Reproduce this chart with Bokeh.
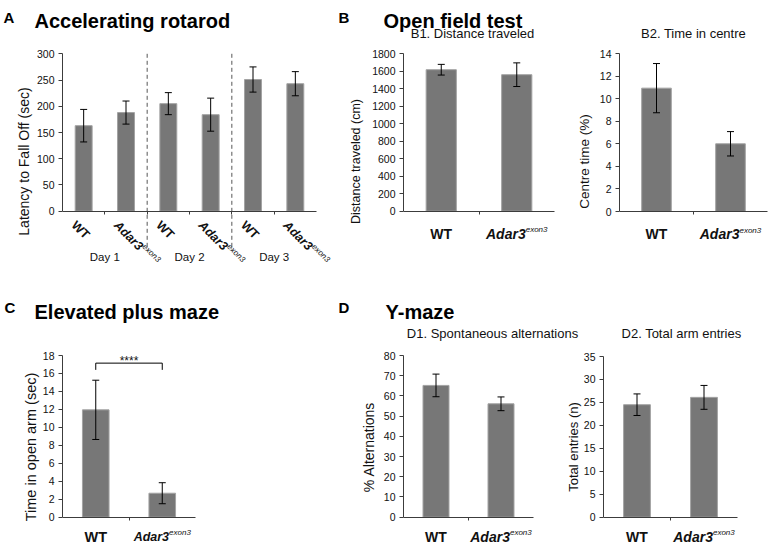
import math
from bokeh.plotting import figure
from bokeh.models import Range1d, FixedTicker, Label, Whisker, TeeHead, ColumnDataSource
from bokeh.layouts import row, column
from bokeh.embed import file_html
from bokeh.resources import INLINE

FONT = "Liberation Sans"
BAR_FILL = "#777777"
BAR_LINE = "#a3a3a3"
AXIS_COLOR = "#3c3c3c"
TEXT_COLOR = "#111111"

# ---------------- data ----------------
genotypes = ["WT", "Adar3"]
allele_sup = "exon3"

# A. Accelerating rotarod
rotarod_title = "Accelerating rotarod"
rotarod_days = ["Day 1", "Day 2", "Day 3"]
rotarod_groups = ["WT", "Adar3", "WT", "Adar3", "WT", "Adar3"]
rotarod_mean = [163, 188, 205, 184, 251, 243]
rotarod_err = [31, 22, 21, 31.5, 24, 23]
rotarod_ticks = [0, 50, 100, 150, 200, 250, 300]
rotarod_ylabel = "Latency to Fall Off (sec)"

# B. Open field test
openfield_title = "Open field test"
dist_subtitle = "B1. Distance traveled"
dist_mean = [1615, 1558]
dist_err = [61, 135]
dist_ticks = [0, 200, 400, 600, 800, 1000, 1200, 1400, 1600, 1800]
dist_ylabel = "Distance traveled (cm)"

centre_subtitle = "B2. Time in centre"
centre_mean = [10.93, 6.0]
centre_err = [2.18, 1.08]
centre_ticks = [0, 2, 4, 6, 8, 10, 12, 14]
centre_ylabel = "Centre time (%)"

# C. Elevated plus maze
epm_title = "Elevated plus maze"
epm_mean = [11.95, 2.67]
epm_err = [3.3, 1.17]
epm_ticks = [0, 2, 4, 6, 8, 10, 12, 14, 16, 18]
epm_ylabel = "Time in open arm (sec)"
epm_sig_label = "****"
epm_sig_top = 17.15
epm_sig_drop = 16.4

# D. Y-maze
ymaze_title = "Y-maze"
alt_subtitle = "D1. Spontaneous alternations"
alt_mean = [65.2, 56.1]
alt_err = [5.6, 3.4]
alt_ticks = [0, 10, 20, 30, 40, 50, 60, 70, 80]
alt_ylabel = "% Alternations"

entries_subtitle = "D2. Total arm entries"
entries_mean = [24.5, 26.1]
entries_err = [2.35, 2.6]
entries_ticks = [0, 5, 10, 15, 20, 25, 30, 35]
entries_ylabel = "Total entries (n)"

# approximate advance widths (em) of label strings (Arial metrics)
EM_ADAR3_BOLD = 2.834
EM_EXON3 = 2.724

# ---------------- layout (picture pixels) ----------------
TOTAL_W = 770
STRIP_TOP_H = 46
ROW_TOP_H = 224
STRIP_BOT_H = 75
ROW_BOT_H = 199
COL_X = [0, 336, 560, 770]
LETTER_SIZE = 15


def style_common(p):
    p.outline_line_color = None
    p.grid.visible = False
    p.background_fill_color = "white"
    p.border_fill_color = "white"


def make_plot(fig_box, axis_box, n_cat, y_ticks, y_label, y_label_size, y_label_standoff, top_border=6):
    fx0, fy0, fx1, fy1 = fig_box
    ax0, ax1, y0_px, ytop_px = axis_box
    ymax = y_ticks[-1]
    frame_top = fy0 + top_border
    ppu = (y0_px - ytop_px) / ymax
    y_start = -(fy1 - y0_px) / ppu
    y_end = ymax + (ytop_px - frame_top) / ppu
    x_end = n_cat * (fx1 - ax0) / (ax1 - ax0)
    p = figure(width=int(fx1 - fx0), height=int(fy1 - fy0), output_backend="svg",
               toolbar_location=None, x_axis_location="above",
               x_range=Range1d(0, x_end), y_range=Range1d(y_start, y_end),
               min_border_left=int(ax0 - fx0), min_border_right=0,
               min_border_top=top_border, min_border_bottom=0)
    style_common(p)

    ya = p.yaxis[0]
    ya.bounds = (0, ymax)
    ya.ticker = FixedTicker(ticks=y_ticks, minor_ticks=[])
    ya.axis_line_color = AXIS_COLOR
    ya.major_tick_line_color = AXIS_COLOR
    ya.major_tick_out = 4
    ya.major_tick_in = 0
    ya.minor_tick_line_color = None
    ya.major_label_standoff = 4
    ya.major_label_text_font = FONT
    ya.major_label_text_font_size = "10.5px"
    ya.major_label_text_color = TEXT_COLOR
    ya.axis_label = y_label
    ya.axis_label_text_font = FONT
    ya.axis_label_text_font_size = f"{y_label_size}px"
    ya.axis_label_text_font_style = "normal"
    ya.axis_label_text_color = TEXT_COLOR
    ya.axis_label_standoff = y_label_standoff

    xa = p.xaxis[0]
    xa.fixed_location = 0
    xa.bounds = (0, n_cat)
    boundaries = list(range(1, n_cat))
    xa.ticker = FixedTicker(ticks=boundaries, minor_ticks=[])
    xa.major_label_overrides = {b: "" for b in boundaries}
    xa.major_label_text_color = None
    xa.major_label_text_font_size = "1px"
    xa.major_label_standoff = 0
    xa.axis_line_color = AXIS_COLOR
    xa.major_tick_line_color = AXIS_COLOR
    xa.major_tick_out = 0
    xa.major_tick_in = 3
    xa.minor_tick_line_color = None
    return p, ppu


def make_strip(height):
    p = figure(width=TOTAL_W, height=height, output_backend="svg", toolbar_location=None,
               x_axis_location=None, y_axis_location=None,
               x_range=Range1d(0, TOTAL_W), y_range=Range1d(height, 0),
               min_border_left=0, min_border_right=0, min_border_top=0, min_border_bottom=0)
    style_common(p)
    return p


def add_text(p, text, x, y, dx=0.0, dy=0.0, size=12.0, style="normal",
             align="left", baseline="alphabetic", angle=0.0, color=TEXT_COLOR):
    p.add_layout(Label(x=x, y=y, x_offset=dx, y_offset=dy, text=text,
                       text_font=FONT, text_font_size=f"{size}px",
                       text_font_style=style, text_align=align,
                       text_baseline=baseline, angle=angle, text_color=color))


def add_bars(p, means, errs, width=0.4):
    xs = [i + 0.5 for i in range(len(means))]
    src = ColumnDataSource(dict(
        x=xs, top=means,
        upper=[m + e for m, e in zip(means, errs)],
        lower=[m - e for m, e in zip(means, errs)]))
    p.vbar(x="x", top="top", bottom=0, width=width, source=src,
           fill_color=BAR_FILL, line_color=BAR_LINE, line_width=1)
    w = Whisker(source=src, base="x", upper="upper", lower="lower",
                line_color="black", line_width=1,
                upper_head=TeeHead(size=7, line_color="black", line_width=1),
                lower_head=TeeHead(size=7, line_color="black", line_width=1))
    w.level = "overlay"
    p.add_layout(w)
    return xs


def add_geno_labels(p, xs, groups, size_wt, size_adar, size_sup, below, raise_px):
    for x, g in zip(xs, groups):
        if g == "WT":
            add_text(p, g, x, 0, 0, -below, size_wt, "bold", "center")
        else:
            dx = (EM_ADAR3_BOLD * size_adar - EM_EXON3 * size_sup) / 2.0
            add_text(p, g, x, 0, dx, -below, size_adar, "bold italic", "right")
            add_text(p, allele_sup, x, 0, dx, -below + raise_px, size_sup, "italic", "left")


# ---------------- heading strips ----------------
top_y = 0
stripT = make_strip(STRIP_TOP_H)
add_text(stripT, "A", 3, 17 - top_y, size=LETTER_SIZE, style="bold", color="black")
add_text(stripT, rotarod_title, 34, 20 - top_y, size=20, style="bold", color="black")
add_text(stripT, "B", 338, 17 - top_y, size=LETTER_SIZE, style="bold", color="black")
add_text(stripT, openfield_title, 383, 20 - top_y, size=20, style="bold", color="black")
add_text(stripT, dist_subtitle, 472, 33 - top_y, size=13, align="center", baseline="middle")
add_text(stripT, centre_subtitle, 693, 33 - top_y, size=13, align="center", baseline="middle")

row_top_y = top_y + STRIP_TOP_H
strip_bot_y = row_top_y + ROW_TOP_H
stripB = make_strip(STRIP_BOT_H)
add_text(stripB, "C", 4, 307 - strip_bot_y, size=LETTER_SIZE, style="bold", color="black")
add_text(stripB, epm_title, 34, 311.5 - strip_bot_y, size=20, style="bold", color="black")
add_text(stripB, "D", 338, 307 - strip_bot_y, size=LETTER_SIZE, style="bold", color="black")
add_text(stripB, ymaze_title, 385, 311.5 - strip_bot_y, size=20, style="bold", color="black")
add_text(stripB, alt_subtitle, 492, 333 - strip_bot_y, size=13, align="center", baseline="middle")
add_text(stripB, entries_subtitle, 681, 333 - strip_bot_y, size=13, align="center", baseline="middle")

row_bot_y = strip_bot_y + STRIP_BOT_H
rt = (row_top_y, row_top_y + ROW_TOP_H)
rb = (row_bot_y, row_bot_y + ROW_BOT_H)

# ---------------- A: rotarod ----------------
pA, ppuA = make_plot((COL_X[0], rt[0], COL_X[1], rt[1]), (62, 316, 210.7, 53.3),
                     len(rotarod_groups), rotarod_ticks, rotarod_ylabel, 14, 2)
xsA = add_bars(pA, rotarod_mean, rotarod_err)

ang = -math.pi / 4
fs_rot, fs_rot_sup = 12.5, 8
c, s = math.cos(ang), -math.sin(ang)
base_dx, base_dy = -10.0, -12.0
for x, g in zip(xsA, rotarod_groups):
    if g == "WT":
        add_text(pA, g, x, 0, base_dx, base_dy, fs_rot, "bold", "left", "alphabetic", ang)
    else:
        add_text(pA, g, x, 0, base_dx, base_dy, fs_rot, "bold italic", "left", "alphabetic", ang)
        run = EM_ADAR3_BOLD * fs_rot
        rise = 4.0
        ox = run * c + rise * c
        oy = -run * s + rise * s
        add_text(pA, allele_sup, x, 0, base_dx + ox, base_dy + oy, fs_rot_sup, "italic",
                 "left", "alphabetic", ang)

groups_per_day = len(rotarod_groups) // len(rotarod_days)
for d, day in enumerate(rotarod_days):
    add_text(pA, day, d * groups_per_day + groups_per_day / 2.0, 0, 0, -46, 11.5,
             "normal", "center", "middle")
sep_x = [d * groups_per_day for d in range(1, len(rotarod_days))]
pA.segment(x0=sep_x, y0=[rotarod_ticks[-1]] * len(sep_x), x1=sep_x,
           y1=[-40 / ppuA] * len(sep_x), line_color="#555555", line_width=1,
           line_dash="4 3")

# ---------------- B1 ----------------
pB1, _ = make_plot((COL_X[1], rt[0], COL_X[2], rt[1]), (403, 554, 210.7, 53),
                   len(genotypes), dist_ticks, dist_ylabel, 12.5, 6)
xsB1 = add_bars(pB1, dist_mean, dist_err)
add_geno_labels(pB1, xsB1, genotypes, 14, 14, 8, 22.5, 4)

# ---------------- B2 ----------------
pB2, _ = make_plot((COL_X[2], rt[0], COL_X[3], rt[1]), (619, 767, 211, 53),
                   len(genotypes), centre_ticks, centre_ylabel, 13.5, 5)
xsB2 = add_bars(pB2, centre_mean, centre_err)
add_geno_labels(pB2, xsB2, genotypes, 14, 14, 8, 22.5, 4)

# ---------------- C ----------------
pC, _ = make_plot((COL_X[0], rb[0], COL_X[1], rb[1]), (62, 195, 516.7, 355),
                  len(genotypes), epm_ticks, epm_ylabel, 14.5, 1, top_border=4)
xsC = add_bars(pC, epm_mean, epm_err)
add_geno_labels(pC, xsC, genotypes, 14.5, 12.5, 8, 19.5, 4)
pC.line(x=[xsC[0], xsC[0], xsC[1], xsC[1]],
        y=[epm_sig_drop, epm_sig_top, epm_sig_top, epm_sig_drop],
        line_color="black", line_width=1)
add_text(pC, epm_sig_label, (xsC[0] + xsC[1]) / 2.0, epm_sig_top, 0, 2, 12,
         "normal", "center", "alphabetic")

# ---------------- D1 ----------------
pD1, _ = make_plot((COL_X[1], rb[0], COL_X[2], rb[1]), (403, 533, 516.7, 355),
                   len(genotypes), alt_ticks, alt_ylabel, 14, 4, top_border=4)
xsD1 = add_bars(pD1, alt_mean, alt_err)
add_geno_labels(pD1, xsD1, genotypes, 14, 14, 8, 19.5, 4)

# ---------------- D2 ----------------
pD2, _ = make_plot((COL_X[2], rb[0], COL_X[3], rb[1]), (603, 737, 516.7, 356),
                   len(genotypes), entries_ticks, entries_ylabel, 13, 0, top_border=4)
xsD2 = add_bars(pD2, entries_mean, entries_err)
add_geno_labels(pD2, xsD2, genotypes, 14, 14, 8, 19.5, 4)

layout = column(stripT, row(pA, pB1, pB2), stripB, row(pC, pD1, pD2))

with open("out.html", "w") as f:
    f.write(file_html(layout, INLINE))
